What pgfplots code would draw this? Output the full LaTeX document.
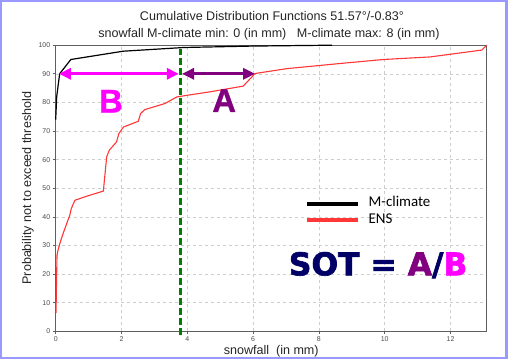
\documentclass[border=0pt]{standalone}
\usepackage{fontspec}
\setmainfont{Liberation Sans}
\newfontfamily\calibri{Carlito}
\newfontfamily\sotfont[BoldFeatures={FakeBold=2}]{DejaVu Sans}
\newfontfamily\abfont[BoldFeatures={FakeBold=1}]{Liberation Sans}
\usepackage{pgfplots}
\pgfplotsset{compat=1.18}
\usetikzlibrary{arrows.meta}
\definecolor{bordc}{RGB}{153,153,255}
\definecolor{gridc}{RGB}{205,205,205}
\definecolor{axc}{RGB}{95,95,95}
\definecolor{magB}{RGB}{255,0,255}
\definecolor{purA}{RGB}{128,0,128}
\definecolor{navy}{RGB}{0,0,102}
\definecolor{greenL}{RGB}{0,128,0}
\definecolor{redL}{RGB}{255,55,55}
\begin{document}
\begin{tikzpicture}[x=1bp,y=1bp]
\useasboundingbox (0,0) rectangle (508,359);
\fill[white] (0,0) rectangle (508,359);
\fill[bordc] (0,0) rectangle (1.5,359);
\fill[bordc] (0,357) rectangle (508,359);
\fill[bordc] (505,0) rectangle (508,359);
\fill[bordc] (0,0) rectangle (508,1.8);
\node[font=\fontsize{12.6}{14}\selectfont, text=black!85] at (272,343.3) {Cumulative Distribution Functions 51.57°/-0.83°};
\node[font=\fontsize{12.6}{14}\selectfont, text=black!85] at (269,325) {snowfall M-climate min: 0 (in mm)\ \ \ M-climate max: 8 (in mm)};
\begin{axis}[
  at={(55.7bp,27.8bp)}, anchor=south west, scale only axis,
  width=431bp, height=286bp,
  xmin=0, xmax=13.1, ymin=0, ymax=100,
  xtick={0,2,...,12}, ytick={0,10,...,100},
  grid=major, major grid style={gridc, dashed, line width=0.5bp},
  axis line style={axc, line width=1bp},
  tick style={axc, line width=0.6bp}, tick align=outside, major tick length=3bp,
  xtick pos=bottom, ytick pos=left,
  ticklabel style={font=\fontsize{7}{8}\selectfont, text=black!70},
  /pgf/number format/assume math mode=true,
  xticklabel style={yshift=1bp},
  yticklabel style={xshift=1bp},
  xlabel={snowfall\ \ (in mm)},
  ylabel={Probability not to exceed threshold},
  label style={font=\fontsize{12.6}{14}\selectfont, text=black!85},
  xlabel style={yshift=3.5bp},
  ylabel style={yshift=-2bp},
  clip=false,
  legend style={draw=none, fill=none, at={(axis cs:7.47,48.2)}, anchor=north west,
    font=\calibri\fontsize{15}{16.6}\selectfont,
    nodes={inner sep=0bp, text height=11bp, text depth=5.6bp},
    column sep=9bp},
  legend cell align=left,
  legend image code/.code={\draw[#1, line width=4bp] (0bp,0bp) -- (51bp,0bp);},
]
\addplot[black, line width=1.2bp] coordinates {(0,74)(0.03,82)(0.12,90)(0.46,95)(2.05,97.9)(3.9,99.2)(6,99.7)(8.4,100)};
\addlegendentry{M-climate}
\addplot[redL, line width=1.1bp] coordinates {
(0.01,6.3)(0.02,14)(0.04,26.6)(0.07,28.3)(0.13,30.8)(0.22,34)(0.34,37.8)(0.43,40.6)(0.47,42.7)(0.53,44.4)(0.59,45.8)
(0.94,47.2)(1.45,49)(1.48,52.8)(1.55,61)(1.63,63.3)(1.85,66.2)(1.92,69.1)(2.06,71.4)(2.51,73.4)(2.58,76.1)(2.71,77.5)
(3.32,79.6)(3.68,81.9)(3.78,82.1)(4.69,83.7)(5.7,85.7)(6.06,90.1)(7.02,91.8)(8.64,93.6)(9.96,95)(11.38,95.9)(12.95,98.3)(13.1,100)};
\addlegendentry{ENS}
\addplot[greenL, line width=2.6bp, dash pattern=on 7bp off 3bp, forget plot] coordinates {(3.8,-1.2)(3.8,98.5)};
\addplot[magB, line width=3bp, {Triangle[length=12bp,width=11bp]}-{Triangle[length=12bp,width=11bp]}, forget plot] coordinates {(0.1,90)(3.74,90)};
\addplot[purA, line width=3bp, {Triangle[length=12bp,width=11bp]}-{Triangle[length=12bp,width=11bp]}, forget plot] coordinates {(3.84,90)(6.06,90)};
\node[magB, font=\abfont\bfseries\fontsize{33}{33}\selectfont] at (axis cs:1.68,80.4) {B};
\node[purA, font=\abfont\bfseries\fontsize{33}{33}\selectfont] at (axis cs:5.12,80.6) {A};
\node[font=\sotfont\bfseries\fontsize{31.5}{32}\selectfont] at (axis cs:9.8,23.1) {\textcolor{navy}{SOT = }\textcolor{purA}{A}\textcolor{navy}{/}\textcolor{magB}{B}};
\end{axis}
\end{tikzpicture}
\end{document}
